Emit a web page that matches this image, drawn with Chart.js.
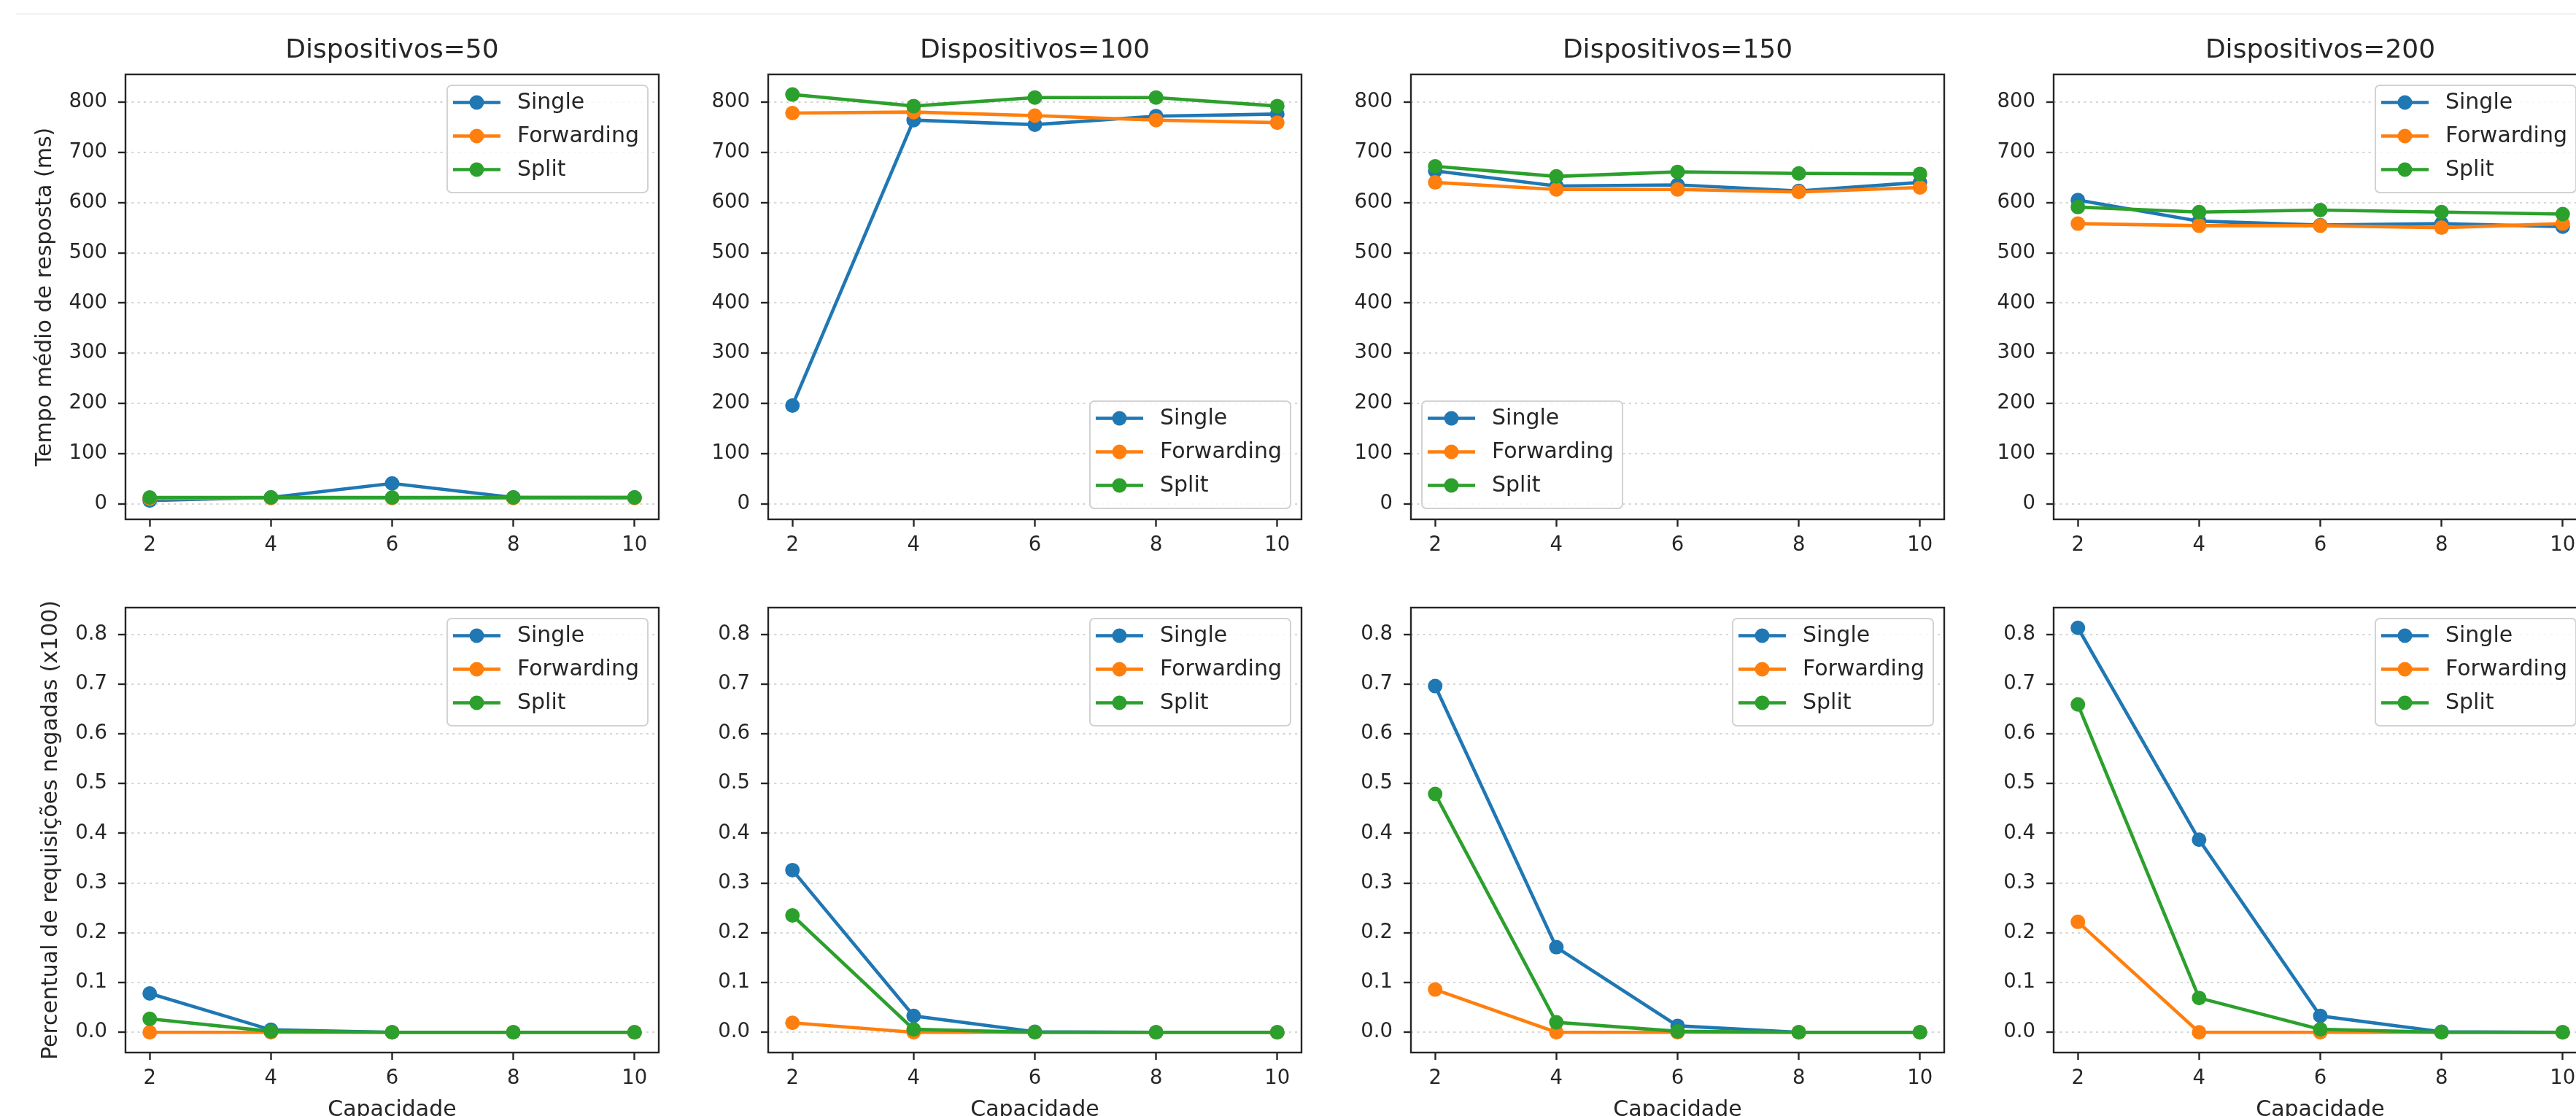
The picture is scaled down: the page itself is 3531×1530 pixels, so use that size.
<!DOCTYPE html>
<html>
<head>
<meta charset="utf-8">
<script src="https://cdn.jsdelivr.net/npm/chart.js@4.4.0/dist/chart.umd.min.js"></script>
<style>
  html, body { margin: 0; padding: 0; background: #ffffff; }
  body { width: 3531px; height: 1530px; overflow: hidden; position: relative; }
  canvas { position: absolute; }
  #topline { position: absolute; left: 22px; right: 0; top: 18px; height: 2px; background: #f1f1f1; }
</style>
</head>
<body>
<div id="topline"></div>
<script>
// ---------------- DATA ----------------
const capacidades = [2, 4, 6, 8, 10];
const dispositivos = [50, 100, 150, 200];
const seriesNames = ['Single', 'Forwarding', 'Split'];

const xTicks = [2, 4, 6, 8, 10];
const yTicksTempo = [0, 100, 200, 300, 400, 500, 600, 700, 800];
const yTicksNegadas = [0, 0.1, 0.2, 0.3, 0.4, 0.5, 0.6, 0.7, 0.8];

// Tempo médio de resposta (ms): one row per number of devices (50, 100, 150, 200)
const tempoSingle = [
  [7, 13, 41, 13, 13],
  [196, 764, 755, 772, 776],
  [663, 633, 635, 623, 640],
  [605, 563, 555, 558, 552]
];
const tempoForwarding = [
  [11, 12, 12, 12, 12],
  [778, 780, 773, 764, 759],
  [640, 626, 626, 621, 630],
  [558, 554, 554, 550, 558]
];
const tempoSplit = [
  [13, 13, 13, 13, 13],
  [815, 792, 809, 809, 792],
  [672, 652, 661, 658, 657],
  [591, 581, 585, 581, 577]
];

// Percentual de requisições negadas (x100)
const negSingle = [
  [0.078, 0.005, 0, 0, 0],
  [0.326, 0.033, 0.001, 0, 0],
  [0.696, 0.171, 0.013, 0, 0],
  [0.813, 0.387, 0.033, 0.001, 0]
];
const negForwarding = [
  [0, 0, 0, 0, 0],
  [0.019, 0, 0, 0, 0],
  [0.086, 0, 0, 0, 0],
  [0.222, 0, 0, 0, 0]
];
const negSplit = [
  [0.027, 0.002, 0, 0, 0],
  [0.235, 0.006, 0, 0, 0],
  [0.479, 0.020, 0.002, 0, 0],
  [0.659, 0.069, 0.006, 0, 0]
];

// ---------------- STYLE / LAYOUT ----------------
const COLORS = ['#1f77b4', '#ff7f0e', '#2ca02c'];
const FONT = "'DejaVu Sans', sans-serif";
const TXT = '#262626';
const BOX_LEFT = [172, 1053, 1934, 2815];
const BOX_W = 731, BOX_H = 610, Y_AXIS_W = 172;
const MARKER_R = 10, LINE_W = 4.6;
const legendLocs = [
  ['upper right', 'lower right', 'lower left', 'upper right'],
  ['upper right', 'upper right', 'upper right', 'upper right']
];
const rowCfg = [
  { canvasTop: 0, padTop: 0, xH: 60, yRange: [-30.5, 855], yTicks: yTicksTempo,
    ylabel: 'Tempo médio de resposta (ms)', ylabelPad: 44,
    series: [tempoSingle, tempoForwarding, tempoSplit], fmt: v => String(v) },
  { canvasTop: 793, padTop: 40, xH: 100, yRange: [-0.0407, 0.8537], yTicks: yTicksNegadas,
    ylabel: 'Percentual de requisições negadas (x100)', ylabelPad: 52,
    series: [negSingle, negForwarding, negSplit], fmt: v => v.toFixed(1) }
];

Chart.defaults.font.family = FONT;

const framePlugin = {
  id: 'frame',
  afterDatasetsDraw(chart) {
    const { ctx, chartArea: a } = chart;
    ctx.save();
    ctx.lineWidth = 2.4;
    ctx.strokeStyle = TXT;
    ctx.strokeRect(a.left, a.top, a.right - a.left, a.bottom - a.top);
    ctx.restore();
  }
};

function roundRectPath(ctx, x, y, w, h, r) {
  ctx.beginPath();
  ctx.moveTo(x + r, y);
  ctx.arcTo(x + w, y, x + w, y + h, r);
  ctx.arcTo(x + w, y + h, x, y + h, r);
  ctx.arcTo(x, y + h, x, y, r);
  ctx.arcTo(x, y, x + w, y, r);
  ctx.closePath();
}

const legendPlugin = {
  id: 'mplLegend',
  afterDraw(chart, args, opts) {
    const { ctx, chartArea: a } = chart;
    const ds = chart.data.datasets;
    ctx.save();
    ctx.font = '30px ' + FONT;
    const tw = Math.max(...ds.map(d => ctx.measureText(d.label).width));
    const w = 96 + tw + 12, h = 147, m = 15;
    const loc = opts.loc || 'upper right';
    const x = loc.endsWith('right') ? a.right - m - w : a.left + m;
    const y = loc.startsWith('upper') ? a.top + m : a.bottom - m - h;
    roundRectPath(ctx, x, y, w, h, 6);
    ctx.fillStyle = 'rgba(255,255,255,0.8)';
    ctx.fill();
    ctx.lineWidth = 2;
    ctx.strokeStyle = '#d2d2d2';
    ctx.stroke();
    ds.forEach((d, i) => {
      const cy = y + 23.5 + i * 46;
      ctx.beginPath();
      ctx.moveTo(x + 8, cy);
      ctx.lineTo(x + 73, cy);
      ctx.lineWidth = LINE_W;
      ctx.strokeStyle = d.borderColor;
      ctx.stroke();
      ctx.beginPath();
      ctx.arc(x + 40.5, cy, MARKER_R, 0, Math.PI * 2);
      ctx.fillStyle = d.borderColor;
      ctx.fill();
      ctx.fillStyle = TXT;
      ctx.textAlign = 'left';
      ctx.textBaseline = 'middle';
      ctx.fillText(d.label, x + 96, cy + 1);
    });
    ctx.restore();
  }
};

function makePanel(row, col) {
  const rc = rowCfg[row];
  const canvas = document.createElement('canvas');
  const cw = Y_AXIS_W * 2 + BOX_W;
  const titleH = row === 0 ? 102 : 0;
  const ch = (row === 0 ? titleH : rc.padTop) + BOX_H + rc.xH;
  canvas.width = cw; canvas.height = ch;
  canvas.style.width = cw + 'px'; canvas.style.height = ch + 'px';
  canvas.style.left = (BOX_LEFT[col] - Y_AXIS_W) + 'px';
  canvas.style.top = rc.canvasTop + 'px';
  document.body.appendChild(canvas);

  const datasets = seriesNames.map((name, s) => ({
    label: name,
    data: capacidades.map((c, i) => ({ x: c, y: rc.series[s][col][i] })),
    borderColor: COLORS[s],
    backgroundColor: COLORS[s],
    pointBackgroundColor: COLORS[s],
    pointBorderColor: COLORS[s],
    pointBorderWidth: 0,
    pointRadius: MARKER_R,
    pointHoverRadius: MARKER_R,
    borderWidth: LINE_W,
    tension: 0,
    fill: false,
    order: 3 - s
  }));

  new Chart(canvas, {
    type: 'line',
    data: { datasets },
    plugins: [framePlugin, legendPlugin],
    options: {
      responsive: false,
      animation: false,
      devicePixelRatio: 1,
      events: [],
      layout: { padding: { top: rc.padTop, right: Y_AXIS_W, left: 0, bottom: 0 }, autoPadding: false },
      plugins: {
        legend: { display: false },
        tooltip: { enabled: false },
        title: {
          display: row === 0,
          fullSize: false,
          text: 'Dispositivos=' + dispositivos[col],
          color: TXT,
          font: { size: 36, weight: 'normal', lineHeight: 1.2, family: FONT },
          padding: { top: 48.4, bottom: 10.4 }
        },
        mplLegend: { loc: legendLocs[row][col] }
      },
      scales: {
        x: {
          type: 'linear',
          position: 'bottom',
          min: 1.6, max: 10.4,
          afterBuildTicks: ax => { ax.ticks = xTicks.map(v => ({ value: v })); },
          afterFit: sc => { sc.height = rc.xH; },
          grid: { drawOnChartArea: false, drawTicks: true, tickLength: 10, tickColor: TXT, tickWidth: 2.4 },
          border: { display: false },
          ticks: { color: TXT, font: { size: 27.5, family: FONT }, padding: 9.5, maxRotation: 0, minRotation: 0, autoSkip: false },
          title: {
            display: row === 1,
            text: 'Capacidade',
            color: TXT,
            font: { size: 30, lineHeight: 1.2, family: FONT },
            padding: { top: 0, bottom: 2.5 }
          }
        },
        y: {
          type: 'linear',
          position: 'left',
          min: rc.yRange[0], max: rc.yRange[1],
          afterBuildTicks: ax => { ax.ticks = rc.yTicks.map(v => ({ value: v })); },
          afterFit: sc => { sc.width = Y_AXIS_W; },
          grid: { drawOnChartArea: true, color: '#d4d4d4', lineWidth: 2, drawTicks: true, tickLength: 10, tickColor: TXT, tickWidth: 2.4 },
          border: { display: false, dash: [3, 5.3] },
          ticks: { color: TXT, font: { size: 27.5, family: FONT }, padding: 15, autoSkip: false, callback: v => rc.fmt(v) },
          title: {
            display: col === 0,
            text: rc.ylabel,
            color: TXT,
            font: { size: 30, lineHeight: 1.2, family: FONT },
            padding: { top: rc.ylabelPad, bottom: 0 }
          }
        }
      }
    }
  });
}

for (let r = 0; r < 2; r++) {
  for (let c = 0; c < 4; c++) makePanel(r, c);
}
</script>
</body>
</html>
